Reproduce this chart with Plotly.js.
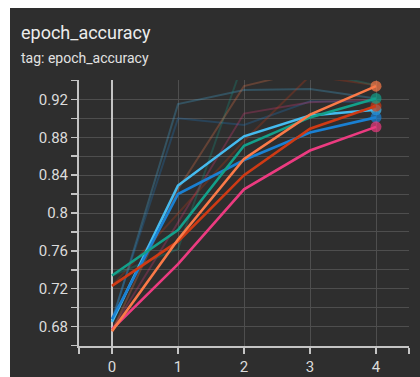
<!DOCTYPE html>
<html>
<head>
<meta charset="utf-8">
<script src="https://cdn.plot.ly/plotly-3.0.1.min.js"></script>
<style>
  html, body { margin: 0; padding: 0; background: #ffffff; width: 420px; height: 377px; overflow: hidden; }
  #chart { position: absolute; left: 10px; top: 8px; width: 410px; height: 369px; }
</style>
</head>
<body>
<div id="chart"></div>
<script>
// ---- data ----
const epochs = [0, 1, 2, 3, 4];
const xTickText = ['0', '1', '2', '3', '4'];
const yTickVals = [0.68, 0.72, 0.76, 0.8, 0.84, 0.88, 0.92];
const yTickText = ['0.68', '0.72', '0.76', '0.8', '0.84', '0.88', '0.92'];

// smoothed runs (bold lines)
const runOrange = [0.675, 0.772, 0.857, 0.904, 0.934];
const runTeal   = [0.734, 0.782, 0.871, 0.901, 0.921];
const runRed    = [0.723, 0.770, 0.840, 0.889, 0.913];
const runCyan   = [0.685, 0.829, 0.881, 0.903, 0.909];
const runBlue   = [0.688, 0.820, 0.856, 0.885, 0.901];
const runPink   = [0.677, 0.746, 0.825, 0.866, 0.891];

// raw runs (faint lines)
const rawOrange = [0.675, 0.825, 0.934, 0.951, 0.948];
const rawTeal   = [0.734, 0.762, 0.962, 0.950, 0.935];
const rawRed    = [0.723, 0.800, 0.876, 0.945, 0.935];
const rawCyan   = [0.685, 0.915, 0.930, 0.931, 0.921];
const rawBlue   = [0.688, 0.900, 0.893, 0.918, 0.917];
const rawPink   = [0.677, 0.790, 0.905, 0.917, 0.920];

const runs = [
  { raw: rawCyan,   run: runCyan,   color: '#45bbef' },
  { raw: rawBlue,   run: runBlue,   color: '#1a80d2' },
  { raw: rawPink,   run: runPink,   color: '#ec3b80' },
  { raw: rawRed,    run: runRed,    color: '#cf3a14' },
  { raw: rawTeal,   run: runTeal,   color: '#13a08a' },
  { raw: rawOrange, run: runOrange, color: '#fb7a48' }
];

const traces = [];
runs.forEach(r => {
  traces.push({
    x: epochs, y: r.raw, type: 'scatter', mode: 'lines',
    line: { color: r.color, width: 2 }, opacity: 0.26, hoverinfo: 'skip', showlegend: false
  });
});
runs.forEach(r => {
  const last = r.run.length - 1;
  traces.push({
    x: epochs, y: r.run, type: 'scatter', mode: 'lines+markers',
    line: { color: r.color, width: 2.6 },
    marker: { color: r.color, size: r.run.map((v, i) => i === last ? 11 : 0), line: { width: 0 } },
    showlegend: false
  });
});

const grid = '#4e4e4e';
const axisCol = '#c4c4c4';
const txt = '#dcdcdc';
const font = 'Roboto, "Liberation Sans", sans-serif';

const layout = {
  width: 410, height: 369,
  margin: { l: 69, r: 11, t: 72, b: 31, pad: 0 },
  paper_bgcolor: '#2e2e2e', plot_bgcolor: '#2e2e2e',
  showlegend: false,
  font: { family: font, color: txt },
  xaxis: {
    range: [-0.5, 4.5],
    tickmode: 'array', tickvals: epochs, ticktext: xTickText,
    showgrid: true, gridcolor: grid, gridwidth: 1,
    zeroline: true, zerolinecolor: axisCol, zerolinewidth: 2,
    showline: true, linecolor: axisCol, linewidth: 2,
    ticks: 'outside', ticklen: 6, tickwidth: 1.5, tickcolor: axisCol,
    tickfont: { family: font, size: 15, color: txt },
    minor: { tickmode: 'array', tickvals: [-0.5, 4.5], ticks: 'outside', ticklen: 6, tickwidth: 1.5, tickcolor: axisCol, showgrid: true, gridcolor: grid, gridwidth: 1 },
    fixedrange: true
  },
  yaxis: {
    range: [0.6595, 0.9405],
    tickmode: 'array', tickvals: yTickVals, ticktext: yTickText,
    showgrid: true, gridcolor: grid, gridwidth: 1,
    zeroline: false,
    showline: true, linecolor: axisCol, linewidth: 2,
    ticks: 'outside', ticklen: 6, tickwidth: 1.5, tickcolor: axisCol,
    tickfont: { family: font, size: 15, color: txt },
    minor: { tickmode: 'linear', tick0: 0.66, dtick: 0.02, ticks: 'outside', ticklen: 6, tickwidth: 1.5, tickcolor: axisCol, showgrid: true, gridcolor: grid, gridwidth: 1 },
    fixedrange: true
  },
  annotations: [
    { text: 'epoch_accuracy', xref: 'paper', yref: 'paper', x: -0.182, y: 1.177, xanchor: 'left', yanchor: 'middle', showarrow: false, font: { family: font, size: 18, color: '#ececec' } },
    { text: 'tag: epoch_accuracy', xref: 'paper', yref: 'paper', x: -0.182, y: 1.084, xanchor: 'left', yanchor: 'middle', showarrow: false, font: { family: font, size: 14, color: '#e2e2e2' } }
  ]
};

Plotly.newPlot('chart', traces, layout, { displayModeBar: false, staticPlot: true });
</script>
</body>
</html>
